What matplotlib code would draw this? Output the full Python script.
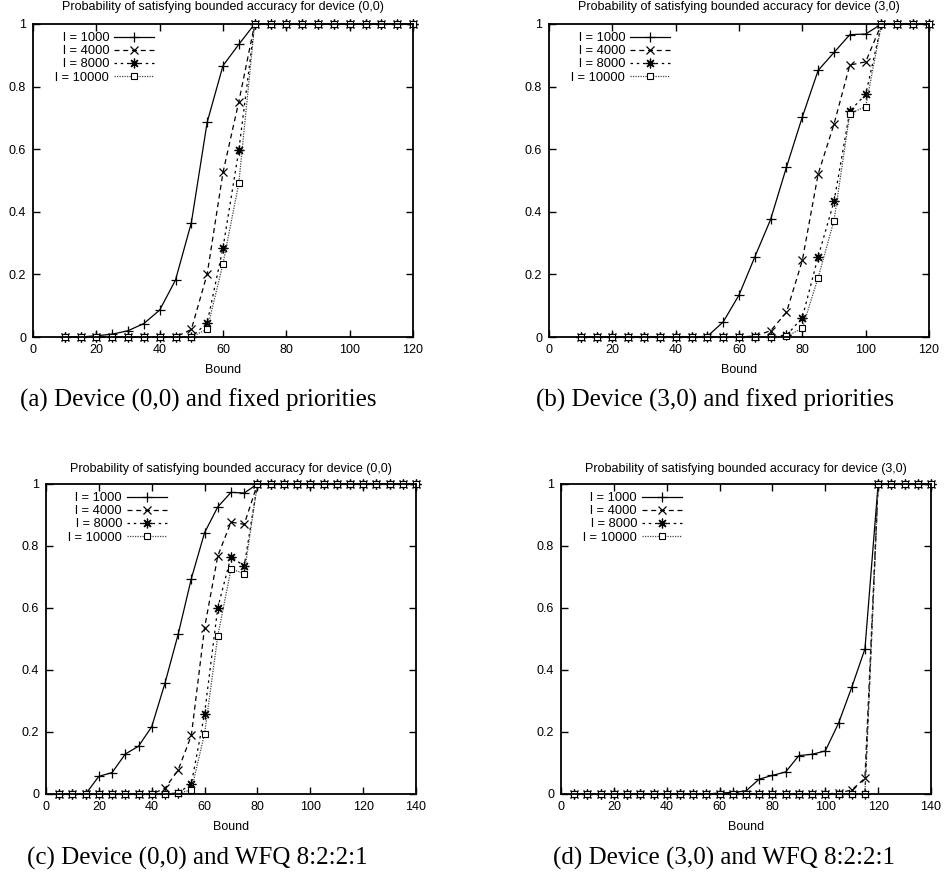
import matplotlib
matplotlib.use("Agg")
import matplotlib.pyplot as plt
from matplotlib.ticker import FuncFormatter

plt.rcParams['font.family'] = ['Liberation Sans', 'DejaVu Sans']

# bound values
bounds_a = [10, 15, 20, 25, 30, 35, 40, 45, 50, 55, 60, 65, 70, 75, 80, 85, 90, 95, 100, 105, 110, 115, 120]
bounds_c = [5, 10, 15, 20, 25, 30, 35, 40, 45, 50, 55, 60, 65, 70, 75, 80, 85, 90, 95, 100,
            105, 110, 115, 120, 125, 130, 135, 140]

labels = ["l = 1000", "l = 4000", "l = 8000", "l = 10000"]

# (a) device (0,0), fixed priorities
a_1000 = [0, 0, 0.004, 0.009, 0.02, 0.043, 0.086, 0.182, 0.365, 0.686, 0.867, 0.935, 1, 1, 1, 1, 1, 1, 1, 1, 1, 1, 1]
a_4000 = [0, 0, 0, 0, 0, 0, 0, 0, 0.024, 0.201, 0.526, 0.752, 1, 1, 1, 1, 1, 1, 1, 1, 1, 1, 1]
a_8000 = [0, 0, 0, 0, 0, 0, 0, 0, 0, 0.045, 0.285, 0.597, 1, 1, 1, 1, 1, 1, 1, 1, 1, 1, 1]
a_10000 = [0, 0, 0, 0, 0, 0, 0, 0, 0, 0.025, 0.234, 0.492, 1, 1, 1, 1, 1, 1, 1, 1, 1, 1, 1]

# (b) device (3,0), fixed priorities
b_1000 = [0, 0, 0, 0, 0, 0, 0, 0, 0.002, 0.048, 0.134, 0.256, 0.376, 0.543, 0.703, 0.852, 0.909,
          0.966, 0.968, 1, 1, 1, 1]
b_4000 = [0, 0, 0, 0, 0, 0, 0, 0, 0, 0, 0, 0.003, 0.02, 0.079, 0.245, 0.521, 0.68, 0.869, 0.879,
          1, 1, 1, 1]
b_8000 = [0, 0, 0, 0, 0, 0, 0, 0, 0, 0, 0, 0, 0, 0.005, 0.062, 0.257, 0.433, 0.722, 0.775, 1, 1, 1, 1]
b_10000 = [0, 0, 0, 0, 0, 0, 0, 0, 0, 0, 0, 0, 0, 0.002, 0.028, 0.19, 0.372, 0.714, 0.736, 1, 1, 1, 1]

# (c) device (0,0), WFQ 8:2:2:1
c_1000 = [0, 0, 0, 0.057, 0.069, 0.129, 0.154, 0.217, 0.357, 0.515, 0.695, 0.843, 0.926, 0.973,
          0.971, 1, 1, 1, 1, 1, 1, 1, 1, 1, 1, 1, 1, 1]
c_4000 = [0, 0, 0, 0, 0, 0, 0, 0, 0.018, 0.077, 0.189, 0.536, 0.768, 0.877, 0.87, 1, 1, 1, 1, 1,
          1, 1, 1, 1, 1, 1, 1, 1]
c_8000 = [0, 0, 0, 0, 0, 0, 0, 0, 0, 0.003, 0.033, 0.259, 0.601, 0.766, 0.735, 1, 1, 1, 1, 1,
          1, 1, 1, 1, 1, 1, 1, 1]
c_10000 = [0, 0, 0, 0, 0, 0, 0, 0, 0, 0.003, 0.013, 0.195, 0.51, 0.726, 0.711, 1, 1, 1, 1, 1,
           1, 1, 1, 1, 1, 1, 1, 1]

# (d) device (3,0), WFQ 8:2:2:1
d_1000 = [0, 0, 0, 0, 0, 0, 0, 0, 0, 0, 0, 0.003, 0.005, 0.01, 0.048, 0.06, 0.071, 0.124, 0.128,
          0.139, 0.228, 0.344, 0.468, 1, 1, 1, 1, 1]
d_4000 = [0, 0, 0, 0, 0, 0, 0, 0, 0, 0, 0, 0, 0, 0, 0, 0, 0, 0, 0, 0, 0.003, 0.013, 0.051, 1, 1, 1, 1, 1]
d_8000 = [0, 0, 0, 0, 0, 0, 0, 0, 0, 0, 0, 0, 0, 0, 0, 0, 0, 0, 0, 0, 0, 0, 0, 1, 1, 1, 1, 1]
d_10000 = [0, 0, 0, 0, 0, 0, 0, 0, 0, 0, 0, 0, 0, 0, 0, 0, 0, 0, 0, 0, 0, 0, 0, 1, 1, 1, 1, 1]

titles = ["Probability of satisfying bounded accuracy for device (0,0)",
          "Probability of satisfying bounded accuracy for device (3,0)",
          "Probability of satisfying bounded accuracy for device (0,0)",
          "Probability of satisfying bounded accuracy for device (3,0)"]
captions = ["(a) Device (0,0) and fixed priorities", "(b) Device (3,0) and fixed priorities",
            "(c) Device (0,0) and WFQ 8:2:2:1", "(d) Device (3,0) and WFQ 8:2:2:1"]

styles = [
    dict(ls='-', marker='+', ms=7, mew=0.9),
    dict(ls=(0, (4, 3)), marker='x', ms=5.5, mew=0.9),
    dict(ls=(0, (2, 3)), marker=(8, 2, 0), ms=7, mew=0.9),
    dict(ls=(0, (1, 1)), marker='s', ms=5, mew=0.8, mfc='white'),
]
line_colors = ['black', 'black', 'black', '#444444']

fig = plt.figure(figsize=(9.44, 8.81), dpi=100)


def panel(rect, xs, series, xmax, title, caption, cap_x, cap_y, pad, leg_x):
    ax = fig.add_axes(rect)
    for ys, lab, st, col in zip(series, labels, styles, line_colors):
        ax.plot(xs, ys, color=col, lw=0.9, label=lab, clip_on=False, mec='black', **st)
    ax.set_xlim(0, xmax)
    ax.set_ylim(0, 1)
    ax.set_xticks(range(0, xmax + 1, 20))
    ax.set_yticks([0, 0.2, 0.4, 0.6, 0.8, 1])
    ax.yaxis.set_major_formatter(FuncFormatter(lambda v, p: f"{v:g}"))
    ax.tick_params(direction='in', top=True, right=True, length=5, width=1, labelsize=9, pad=5)
    for s in ax.spines.values():
        s.set_linewidth(1.3)
    ax.set_title(title, fontsize=9, pad=pad)
    ax.set_xlabel("Bound", fontsize=9, labelpad=6)
    ax.legend(loc='upper left', frameon=False, markerfirst=False, fontsize=9.3,
              handlelength=3.1, handletextpad=0.4, labelspacing=0.08, alignment='right',
              borderaxespad=0, bbox_to_anchor=(leg_x, 0.99))
    fig.text(cap_x, cap_y, caption, fontsize=18, family=['Liberation Serif', 'DejaVu Serif'],
             ha='left', va='center')
    return ax


panel([33 / 944, 1 - 337 / 881, 380 / 944, 313 / 881], bounds_a,
      [a_1000, a_4000, a_8000, a_10000], 120, titles[0], captions[0], 20 / 944, 1 - 400 / 881, 10, 0.045)
panel([549 / 944, 1 - 337 / 881, 380 / 944, 313 / 881], bounds_a,
      [b_1000, b_4000, b_8000, b_10000], 120, titles[1], captions[1], 536 / 944, 1 - 400 / 881, 10, 0.045)
panel([46 / 944, 1 - 794 / 881, 370 / 944, 310 / 881], bounds_c,
      [c_1000, c_4000, c_8000, c_10000], 140, titles[2], captions[2], 27 / 944, 1 - 858 / 881, 8.5, 0.046)
panel([561 / 944, 1 - 794 / 881, 370 / 944, 310 / 881], bounds_c,
      [d_1000, d_4000, d_8000, d_10000], 140, titles[3], captions[3], 553 / 944, 1 - 858 / 881, 8.5, 0.046)

fig.savefig("out.png", dpi=100)
